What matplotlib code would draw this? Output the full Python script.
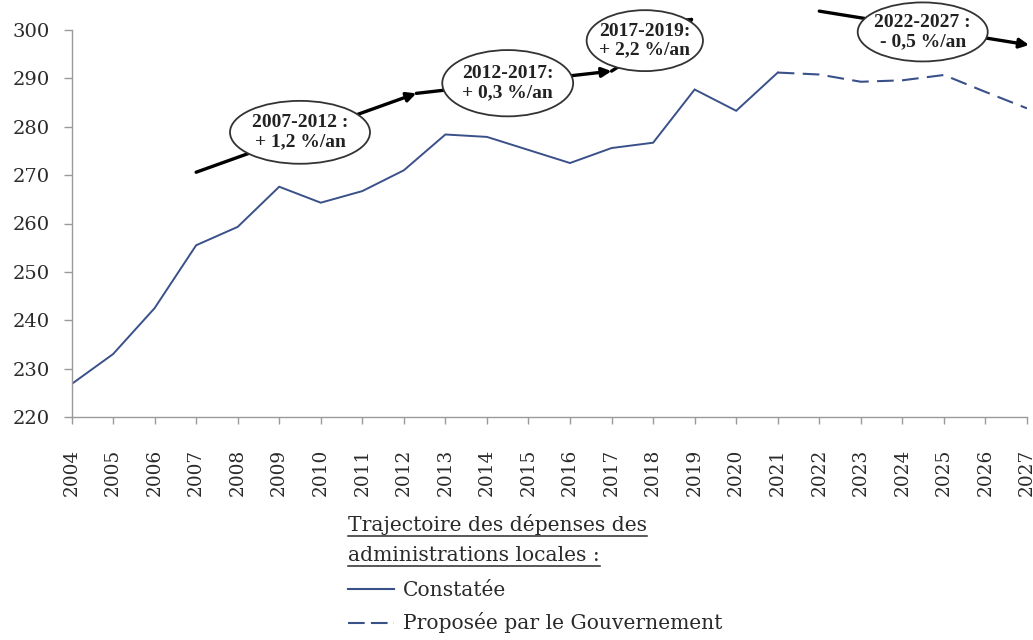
import matplotlib
matplotlib.use("Agg")
import matplotlib.pyplot as plt
from matplotlib.patches import Ellipse
from matplotlib.lines import Line2D

# ---- data ----
obs_years = list(range(2004, 2022))
obs_values = [226.8, 233.0, 242.5, 255.5, 259.3, 267.6, 264.3, 266.7, 271.0,
              278.4, 277.9, 275.2, 272.5, 275.6, 276.7, 287.7, 283.3, 291.2]
prop_years = list(range(2021, 2028))
prop_values = [291.2, 290.8, 289.3, 289.6, 290.7, 287.2, 283.8]
xtick_years = list(range(2004, 2028))
yticks = [220, 230, 240, 250, 260, 270, 280, 290, 300]

period_labels = ["2007-2012 :\n+ 1,2 %/an", "2012-2017:\n+ 0,3 %/an",
                 "2017-2019:\n+ 2,2 %/an", "2022-2027 :\n- 0,5 %/an"]
legend_title = ["Trajectoire des dépenses des", "administrations locales :"]
legend_labels = ["Constatée", "Proposée par le Gouvernement"]

# annotation geometry (data coords)
arrows = [((2007.0, 270.6), (2012.3, 286.9)),
          ((2012.3, 286.9), (2017.0, 291.5)),
          ((2017.0, 291.5), (2019.0, 302.6)),
          ((2022.0, 303.9), (2027.05, 296.9))]
ellipses = [((2009.5, 278.85), 3.37, 13.0),
            ((2014.5, 289.0), 3.15, 13.7),
            ((2017.8, 297.8), 2.80, 12.6),
            ((2024.49, 299.6), 3.13, 12.2)]

W, H = 1033, 640
fig = plt.figure(figsize=(W / 100, H / 100), dpi=100)
fig.patch.set_facecolor("white")

x0, x1 = 71.5, 1027.0
yb, yt = 417.0, 30.0
ax = fig.add_axes([x0 / W, 1 - yb / H, (x1 - x0) / W, (yb - yt) / H])
ax.set_xlim(2004, 2027)
ax.set_ylim(220, 300)

line_color = "#3a5089"
ax.plot(obs_years, obs_values, color=line_color, lw=1.4, solid_joinstyle="miter")
ax.plot(prop_years, prop_values, color=line_color, lw=1.5, dashes=(8, 4))

for s in ["top", "right"]:
    ax.spines[s].set_visible(False)
for s in ["left", "bottom"]:
    ax.spines[s].set_color("#9a9a9a")
    ax.spines[s].set_linewidth(1.0)

ax.set_yticks(yticks)
ax.set_yticklabels([str(v) for v in yticks], family="DejaVu Serif",
                   fontsize=14, color="#2a2a2a")
ax.set_xticks(xtick_years)
ax.set_xticklabels([str(v) for v in xtick_years], family="DejaVu Serif",
                   fontsize=13.3, color="#2a2a2a", rotation=90)
ax.tick_params(axis="y", length=6, width=1, color="#9a9a9a", pad=9.5)
ax.tick_params(axis="x", length=5, width=1, color="#9a9a9a", pad=18)

# arrows
for (start, end) in arrows:
    ax.annotate("", xy=end, xytext=start, annotation_clip=False,
                arrowprops=dict(arrowstyle="-|>", lw=2.4, color="black",
                                mutation_scale=14, shrinkA=0, shrinkB=0),
                zorder=4)

# ellipses and labels
for (center, w, h), lab in zip(ellipses, period_labels):
    e = Ellipse(center, w, h, facecolor="white", edgecolor="#333333",
                lw=1.3, clip_on=False, zorder=5)
    ax.add_patch(e)
    ax.text(center[0], center[1], lab, ha="center", va="center",
            multialignment="center",
            family="Liberation Serif", fontweight="bold", fontsize=14,
            color="#222222", linespacing=1.15, zorder=6, clip_on=False)

# legend block
def fy(py):
    return 1 - py / H

lx = 348 / W
title_texts = []
for t, py in zip(legend_title, [531, 561]):
    tt = fig.text(lx, fy(py), t, family="DejaVu Serif", fontsize=14.6,
                  color="#2a2a2a", ha="left", va="baseline")
    title_texts.append((tt, py))

fig.canvas.draw()
r = fig.canvas.get_renderer()
for tt, py in title_texts:
    bb = tt.get_window_extent(r)
    fig.add_artist(Line2D([bb.x0 / W, bb.x1 / W], [fy(py + 5), fy(py + 5)],
                          color="#2a2a2a", lw=1.1))

fig.text(403 / W, fy(596), legend_labels[0], family="DejaVu Serif",
         fontsize=14.6, color="#2a2a2a", ha="left", va="baseline")
fig.text(403 / W, fy(629), legend_labels[1], family="DejaVu Serif",
         fontsize=14.6, color="#2a2a2a", ha="left", va="baseline")
fig.add_artist(Line2D([348 / W, 394 / W], [fy(589), fy(589)],
                      color=line_color, lw=1.5))
fig.add_artist(Line2D([348 / W, 394 / W], [fy(623), fy(623)],
                      color=line_color, lw=1.5, dashes=(8, 3)))

fig.savefig("out.png", dpi=100, facecolor="white")
